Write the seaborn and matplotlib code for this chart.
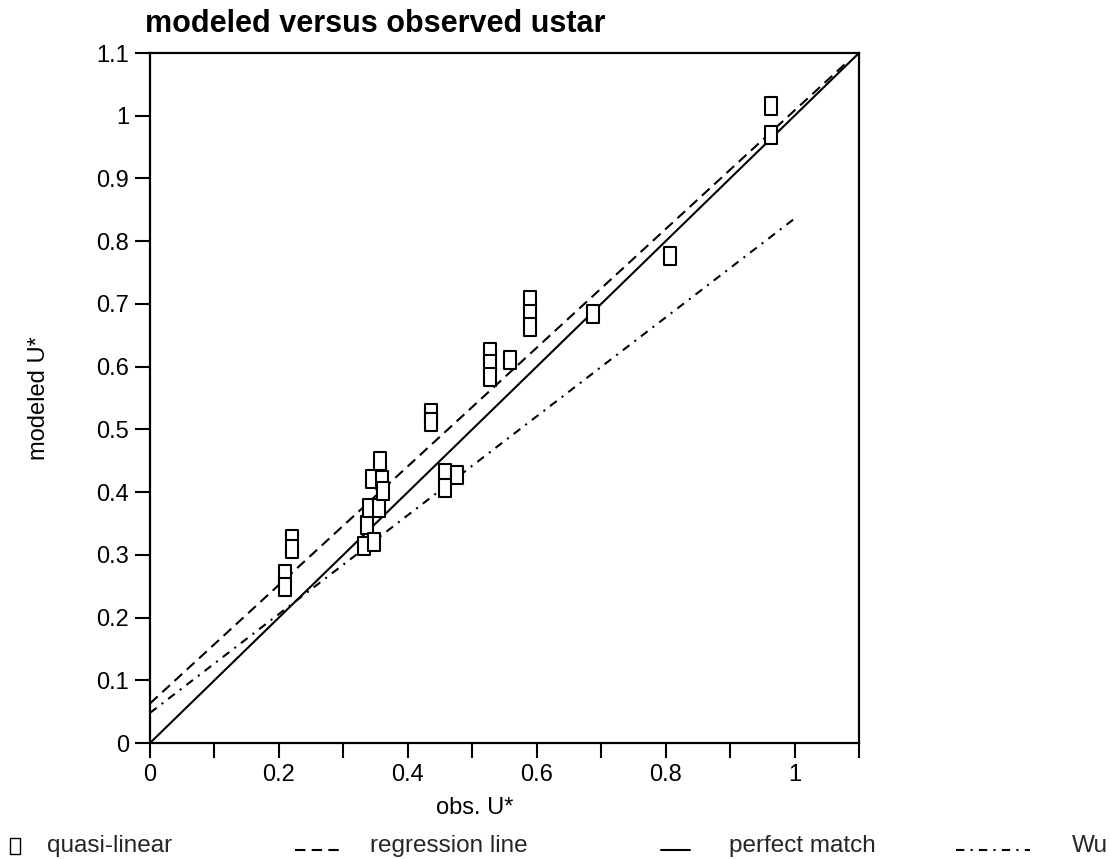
import numpy as np
import pandas as pd
import matplotlib
matplotlib.use("Agg")
import matplotlib.pyplot as plt
from matplotlib.path import Path
from matplotlib.markers import MarkerStyle
from matplotlib.lines import Line2D
import seaborn as sns

# ---------------- data ----------------
obs_u = [0.209, 0.209, 0.221, 0.221, 0.332, 0.337, 0.339, 0.348, 0.355,
         0.345, 0.357, 0.360, 0.362, 0.436, 0.436, 0.458, 0.458, 0.476,
         0.528, 0.528, 0.528, 0.559, 0.590, 0.590, 0.590, 0.687, 0.806,
         0.964, 0.964]
mod_u = [0.269, 0.248, 0.325, 0.310, 0.314, 0.348, 0.375, 0.321, 0.375,
         0.421, 0.450, 0.419, 0.401, 0.526, 0.512, 0.431, 0.406, 0.427,
         0.624, 0.604, 0.583, 0.611, 0.707, 0.684, 0.663, 0.684, 0.776,
         1.015, 0.969]

regression_x = [0.0, 1.08]
regression_y = [0.063, 1.084]
perfect_x = [0.0, 1.1]
perfect_y = [0.0, 1.1]
wu_x = [0.0, 1.0]
wu_y = [0.048, 0.836]

x_ticks = [0.0, 0.1, 0.2, 0.3, 0.4, 0.5, 0.6, 0.7, 0.8, 0.9, 1.0, 1.1]
x_tick_labels = ["0", "", "0.2", "", "0.4", "", "0.6", "", "0.8", "", "1", ""]
y_ticks = [0.0, 0.1, 0.2, 0.3, 0.4, 0.5, 0.6, 0.7, 0.8, 0.9, 1.0, 1.1]
y_tick_labels = ["0", "0.1", "0.2", "0.3", "0.4", "0.5", "0.6", "0.7",
                 "0.8", "0.9", "1", "1.1"]

title = "modeled versus observed ustar"
x_label = "obs. U*"
y_label = "modeled U*"
legend_labels = ["quasi-linear", "regression line", "perfect match", "Wu"]

# ---------------- style ----------------
sns.set_theme(style="white")
plt.rcParams["font.family"] = ["Liberation Sans", "DejaVu Sans"]

W, H = 1110, 859
fig = plt.figure(figsize=(W / 100, H / 100), dpi=100)
ax = fig.add_axes([150 / W, (H - 743) / H, 709 / W, 690 / H])

box = MarkerStyle(Path([(-0.3, -0.5), (0.3, -0.5), (0.3, 0.5), (-0.3, 0.5), (-0.3, -0.5)],
                       closed=True))

df = pd.DataFrame({"obs": obs_u, "mod": mod_u})

dash_reg = (0, (5, 3))
dash_wu = (0, (4, 3, 1, 3))

sns.lineplot(x=perfect_x, y=perfect_y, color="black", linewidth=1.5, ax=ax,
             zorder=2)
sns.lineplot(x=regression_x, y=regression_y, color="black", linewidth=1.5,
             linestyle=dash_reg, ax=ax, zorder=2)
sns.lineplot(x=wu_x, y=wu_y, color="black", linewidth=1.5,
             linestyle=dash_wu, ax=ax, zorder=2)
sns.scatterplot(data=df, x="obs", y="mod", marker=box, s=180,
                color="white", edgecolor="black", linewidth=1.5, ax=ax,
                zorder=3, legend=False)

ax.set_xlim(0, 1.1)
ax.set_ylim(0, 1.1)
ax.set_xticks(x_ticks)
ax.set_xticklabels(x_tick_labels)
ax.set_yticks(y_ticks)
ax.set_yticklabels(y_tick_labels)
ax.tick_params(axis="both", direction="out", length=11, width=1.5,
               color="black", labelsize=17, labelcolor="black", pad=4,
               bottom=True, left=True)
for sp in ax.spines.values():
    sp.set_visible(True)
    sp.set_color("black")
    sp.set_linewidth(1.6)
ax.grid(False)

ax.set_xlabel(x_label, fontsize=17, color="black")
ax.xaxis.set_label_coords((475 - 150) / 709, (743 - 797) / 690)
ax.set_ylabel(y_label, fontsize=17, color="black")
ax.yaxis.set_label_coords((50 - 150) / 709, 0.5)

fig.text(145 / W, 1 - 24 / H, title, fontsize=22, fontweight="bold",
         ha="left", va="center", color="black")

# ---------------- legend row ----------------
ly_text = 1 - 852 / H
ly_line = 1 - 850 / H
fig.add_artist(Line2D([15 / W], [1 - 846 / H], marker=box, markersize=11,
                      markerfacecolor="white", markeredgecolor="black",
                      markeredgewidth=1.0, linestyle="none",
                      transform=fig.transFigure))
fig.text(47 / W, ly_text, legend_labels[0], fontsize=17.5, va="baseline")
fig.add_artist(Line2D([295 / W, 342 / W], [ly_line, ly_line], color="black",
                      linewidth=1.5, linestyle=dash_reg,
                      transform=fig.transFigure))
fig.text(370 / W, ly_text, legend_labels[1], fontsize=17.5, va="baseline")
fig.add_artist(Line2D([661 / W, 690 / W], [ly_line, ly_line], color="black",
                      linewidth=1.5, transform=fig.transFigure))
fig.text(729 / W, ly_text, legend_labels[2], fontsize=17.5, va="baseline")
fig.add_artist(Line2D([956 / W, 1030 / W], [ly_line, ly_line], color="black",
                      linewidth=1.5, linestyle=dash_wu,
                      transform=fig.transFigure))
fig.text(1072 / W, ly_text, legend_labels[3], fontsize=17.5, va="baseline")

fig.savefig("out.png", dpi=100, facecolor="white")
